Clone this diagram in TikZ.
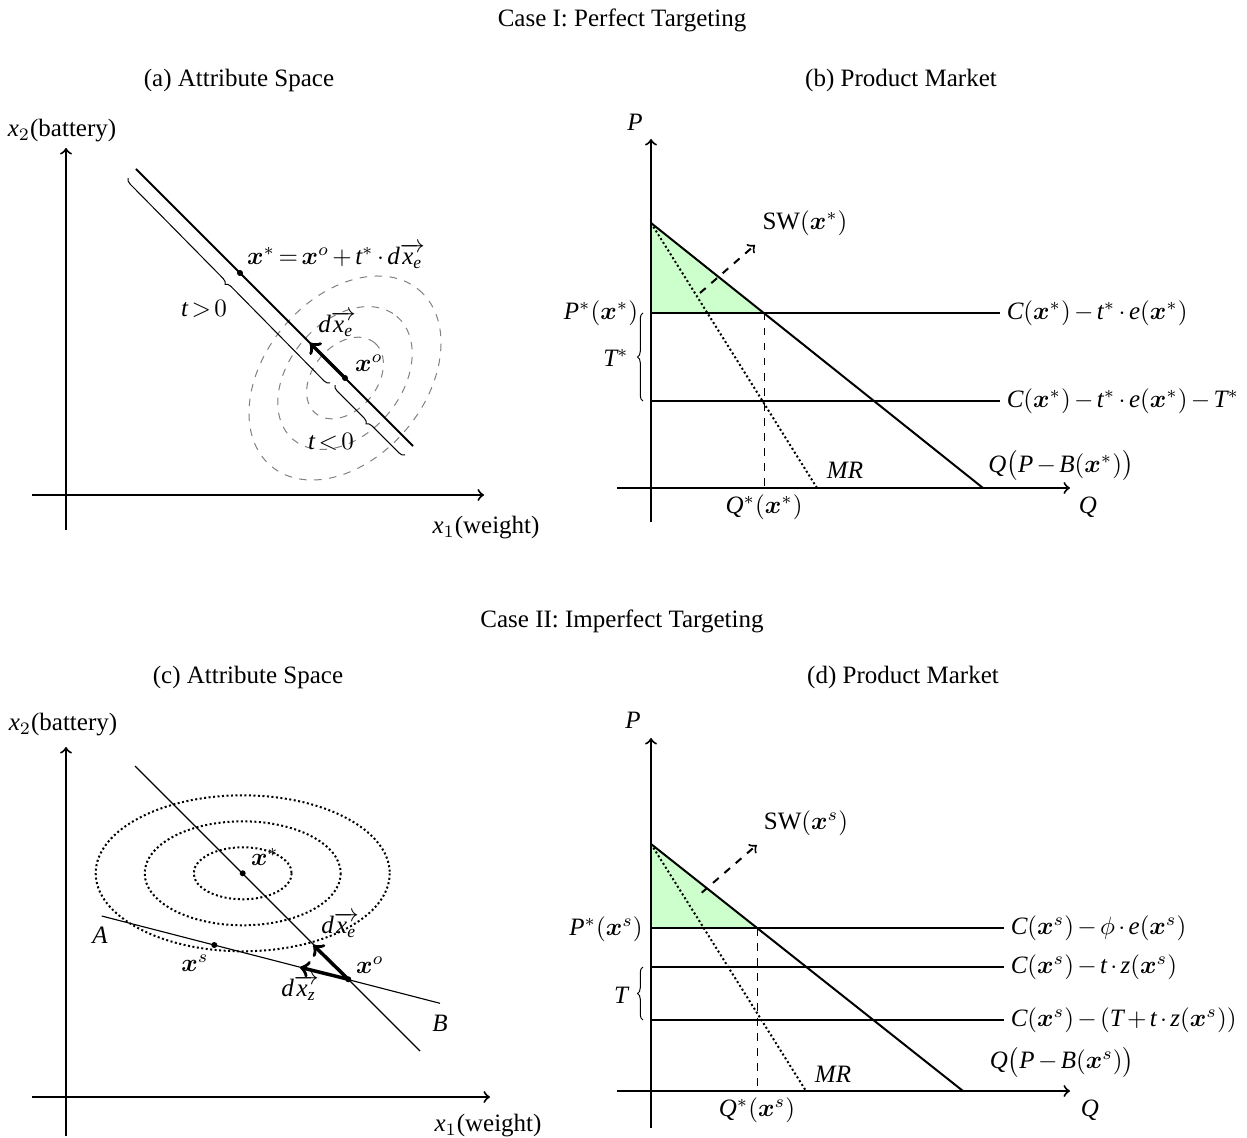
\documentclass[tikz,border=0pt]{standalone}
\usepackage{amsmath}
\usepackage{fontspec}
\setmainfont{Liberation Serif}
\newfontfamily\timesfam{Liberation Serif}[NFSSFamily=tmsit]
\DeclareSymbolFont{tletters}{TU}{tmsit}{m}{it}
\DeclareSymbolFont{bletters}{OML}{cmm}{b}{it}
\newcommand\tlet[1]{\DeclareMathSymbol{#1}{\mathalpha}{tletters}{`#1}}
\tlet A\tlet B\tlet C\tlet M\tlet P\tlet Q\tlet R\tlet T\tlet d\tlet e\tlet t\tlet x\tlet z
\DeclareMathSymbol{\bx}{\mathord}{bletters}{`x}
\medmuskip=2.4mu plus 1mu minus 1mu
\thickmuskip=2.5mu plus 2mu
\usetikzlibrary{decorations.pathreplacing}
\begin{document}
\begin{tikzpicture}[x=0.4pt,y=-0.4pt,
 axis/.style={thick,->},
 curve/.style={thick},
 thinline/.style={line width=0.45pt},
 guide/.style={thin,dashed},
 mrline/.style={thick,densely dotted},
 welfare/.style={thick,dashed,->},
 move/.style={line width=1.4pt,->},
 ptdot/.style={circle,fill=black,inner sep=0pt,minimum size=2.4pt},
 costlab/.style={anchor=west,inner sep=2.5pt},
 brc/.style={thin,decorate,decoration={brace,amplitude=2.2pt}},
 contourA/.style={gray,dashed,thin},
 contourC/.style={thick,densely dotted},
 fillw/.style={fill=green!20},
]
\useasboundingbox (0,0) rectangle (1247,1138);

% ---------------- titles
\node (t1) at (622,20) {Case I: Perfect Targeting};
\node (ta) at (239,80) {(a) Attribute Space};
\node (tb) at (901,80) {(b) Product Market};
\node (t2) at (622,621) {Case II: Imperfect Targeting};
\node (tc) at (248,677) {(c) Attribute Space};
\node (td) at (903,677) {(d) Product Market};

% ================= panel (a)
\foreach \s in {0.4,0.7,1}{
  \draw[contourA, rotate around={50:(345,378)}] (345,378) ellipse [x radius=115*\s, y radius=80*\s];
}
\coordinate (aY0) at (66,530); \coordinate (aY) at (66,148);
\coordinate (aX0) at (32,495); \coordinate (aX) at (484,495);
\draw[axis] (aY0) -- (aY);
\draw[axis] (aX0) -- (aX);
\node (ax2) at (62,131) {$x_2$(battery)};
\node (ax1) at (486,528) {$x_1$(weight)};
\coordinate (aL1) at (136,169); \coordinate (aL2) at (413,446);
\draw[curve] (aL1) -- (aL2);
\coordinate (ab1a) at (330,383); \coordinate (ab1b) at (127.5,177.5);
\coordinate (ab2a) at (405,455); \coordinate (ab2b) at (335,385);
\draw[brc] (ab1a) -- (ab1b);
\draw[brc] (ab2a) -- (ab2b);
\node[ptdot] (axstar) at (240,273) {};
\node[ptdot] (axo) at (345,378) {};
\coordinate (adxe) at (310,343);
\draw[move] (axo.center) -- (adxe);
\node (aeq) at (336,256) {$\bx^*=\bx^o+t^*\cdot d\overrightarrow{x_e}$};
\node (adxl) at (337,324) {$d\overrightarrow{x_e}$};
\node (axol) at (369,363) {$\bx^o$};
\node (atp) at (204,309) {$t>0$};
\node (atn) at (331,442) {$t<0$};

% ================= panel (b)
\coordinate (bY0) at (651,522); \coordinate (bY) at (651,139);
\coordinate (bX0) at (617,488); \coordinate (bX) at (1070,488);
\coordinate (bD0) at (651,223); \coordinate (bD1) at (983,488);
\coordinate (bM1) at (817,488);
\coordinate (bP) at (651,313); \coordinate (bPe) at (1000,313);
\coordinate (bT) at (651,401); \coordinate (bTe) at (1000,401);
\coordinate (bE) at (764,313); \coordinate (bEq) at (764,488);
\coordinate (bW0) at (700,293); \coordinate (bW1) at (755,245);
\fill[fillw] (bD0) -- (bP) -- (bE) -- cycle;
\draw[curve] (bP) -- (bPe);
\draw[curve] (bT) -- (bTe);
\draw[curve] (bD0) -- (bD1);
\draw[mrline] (bD0) -- (bM1);
\draw[guide] (bE) -- (bEq);
\draw[welfare] (bW0) -- (bW1);
\draw[axis] (bY0) -- (bY);
\draw[axis] (bX0) -- (bX);
\coordinate (bb0) at (643,401); \coordinate (bb1) at (643,313);
\draw[brc] (bb0) -- (bb1);
\node (bPl) at (635,122) {$P$};
\node (bQl) at (1088,507) {$Q$};
\node (bQs) at (764,507) {$Q^*(\bx^*)$};
\node (bPs) at (601,313) {$P^*(\bx^*)$};
\node (bTs) at (616,358) {$T^*$};
\node (bSW) at (805,223) {$\mathrm{SW}(\bx^*)$};
\node (bMR) at (845,470) {$MR$};
\node (bDl) at (1061,466) {$Q\bigl(P-B(\bx^*)\bigr)$};
\node[costlab] (bC1) at (bPe) {$C(\bx^*)-t^*\cdot e(\bx^*)$};
\node[costlab] (bC2) at (bTe) {$C(\bx^*)-t^*\cdot e(\bx^*)-T^*$};

% ================= panel (c)
\coordinate (cY0) at (66,1136); \coordinate (cY) at (66,747);
\coordinate (cX0) at (32,1097); \coordinate (cX) at (490,1097);
\draw[axis] (cY0) -- (cY);
\draw[axis] (cX0) -- (cX);
\node (cx2) at (63,725) {$x_2$(battery)};
\node (cx1) at (488,1126) {$x_1$(weight)};
\coordinate (cxs0) at (242.7,873.3);
\draw[contourC] (cxs0) ellipse [x radius=49, y radius=26];
\draw[contourC] (cxs0) ellipse [x radius=98, y radius=52];
\draw[contourC] (cxs0) ellipse [x radius=147, y radius=78];
\coordinate (cL1) at (135,766); \coordinate (cL2) at (420,1051);
\coordinate (cA) at (101.7,916); \coordinate (cB) at (440,1003.3);
\draw[thinline] (cL1) -- (cL2);
\draw[thinline] (cA) -- (cB);
\node[ptdot] (cxstar) at (cxs0) {};
\node[ptdot] (cxs) at (214.3,945) {};
\node[ptdot] (cxo) at (348.3,979.3) {};
\coordinate (cde) at (313.3,945); \coordinate (cdz) at (300,967.3);
\draw[move] (cxo.center) -- (cde);
\draw[move] (cxo.center) -- (cdz);
\node (cAl) at (100,935) {$A$};
\node (cBl) at (440,1023) {$B$};
\node (cxsl) at (195,963) {$\bx^s$};
\node (cxstl) at (265,857) {$\bx^*$};
\node (cxol) at (370,965) {$\bx^o$};
\node (cdel) at (340,925) {$d\overrightarrow{x_e}$};
\node (cdzl) at (300,988) {$d\overrightarrow{x_z}$};

% ================= panel (d)
\coordinate (dY0) at (651,1128); \coordinate (dY) at (651,738);
\coordinate (dX0) at (617,1091); \coordinate (dX) at (1070,1091);
\coordinate (dD0) at (651,844); \coordinate (dD1) at (963,1091);
\coordinate (dM1) at (806,1091);
\coordinate (dP) at (651,928); \coordinate (dPe) at (1004,928);
\coordinate (dT1) at (651,967); \coordinate (dT1e) at (1004,967);
\coordinate (dT2) at (651,1020); \coordinate (dT2e) at (1004,1020);
\coordinate (dE) at (757,928); \coordinate (dEq) at (757,1091);
\coordinate (dW0) at (701.7,892.7); \coordinate (dW1) at (756.7,845);
\fill[fillw] (dD0) -- (dP) -- (dE) -- cycle;
\draw[curve] (dP) -- (dPe);
\draw[curve] (dT1) -- (dT1e);
\draw[curve] (dT2) -- (dT2e);
\draw[curve] (dD0) -- (dD1);
\draw[mrline] (dD0) -- (dM1);
\draw[guide] (dE) -- (dEq);
\draw[welfare] (dW0) -- (dW1);
\draw[axis] (dY0) -- (dY);
\draw[axis] (dX0) -- (dX);
\coordinate (db0) at (643,1020); \coordinate (db1) at (643,967);
\draw[brc] (db0) -- (db1);
\node (dPl) at (633,720) {$P$};
\node (dQl) at (1090,1110) {$Q$};
\node (dQs) at (757,1110) {$Q^*(\bx^s)$};
\node (dPs) at (606,929) {$P^*(\bx^s)$};
\node (dTs) at (621,995) {$T$};
\node (dSW) at (806,823) {$\mathrm{SW}(\bx^s)$};
\node (dMR) at (833,1074) {$MR$};
\node (dDl) at (1062,1062) {$Q\bigl(P-B(\bx^s)\bigr)$};
\node[costlab] (dC1) at (dPe) {$C(\bx^s)-\phi\cdot e(\bx^s)$};
\node[costlab] (dC2) at (dT1e) {$C(\bx^s)-t\cdot z(\bx^s)$};
\node[costlab] (dC3) at (dT2e) {$C(\bx^s)-(T+t\cdot z(\bx^s))$};
\end{tikzpicture}
\end{document}
